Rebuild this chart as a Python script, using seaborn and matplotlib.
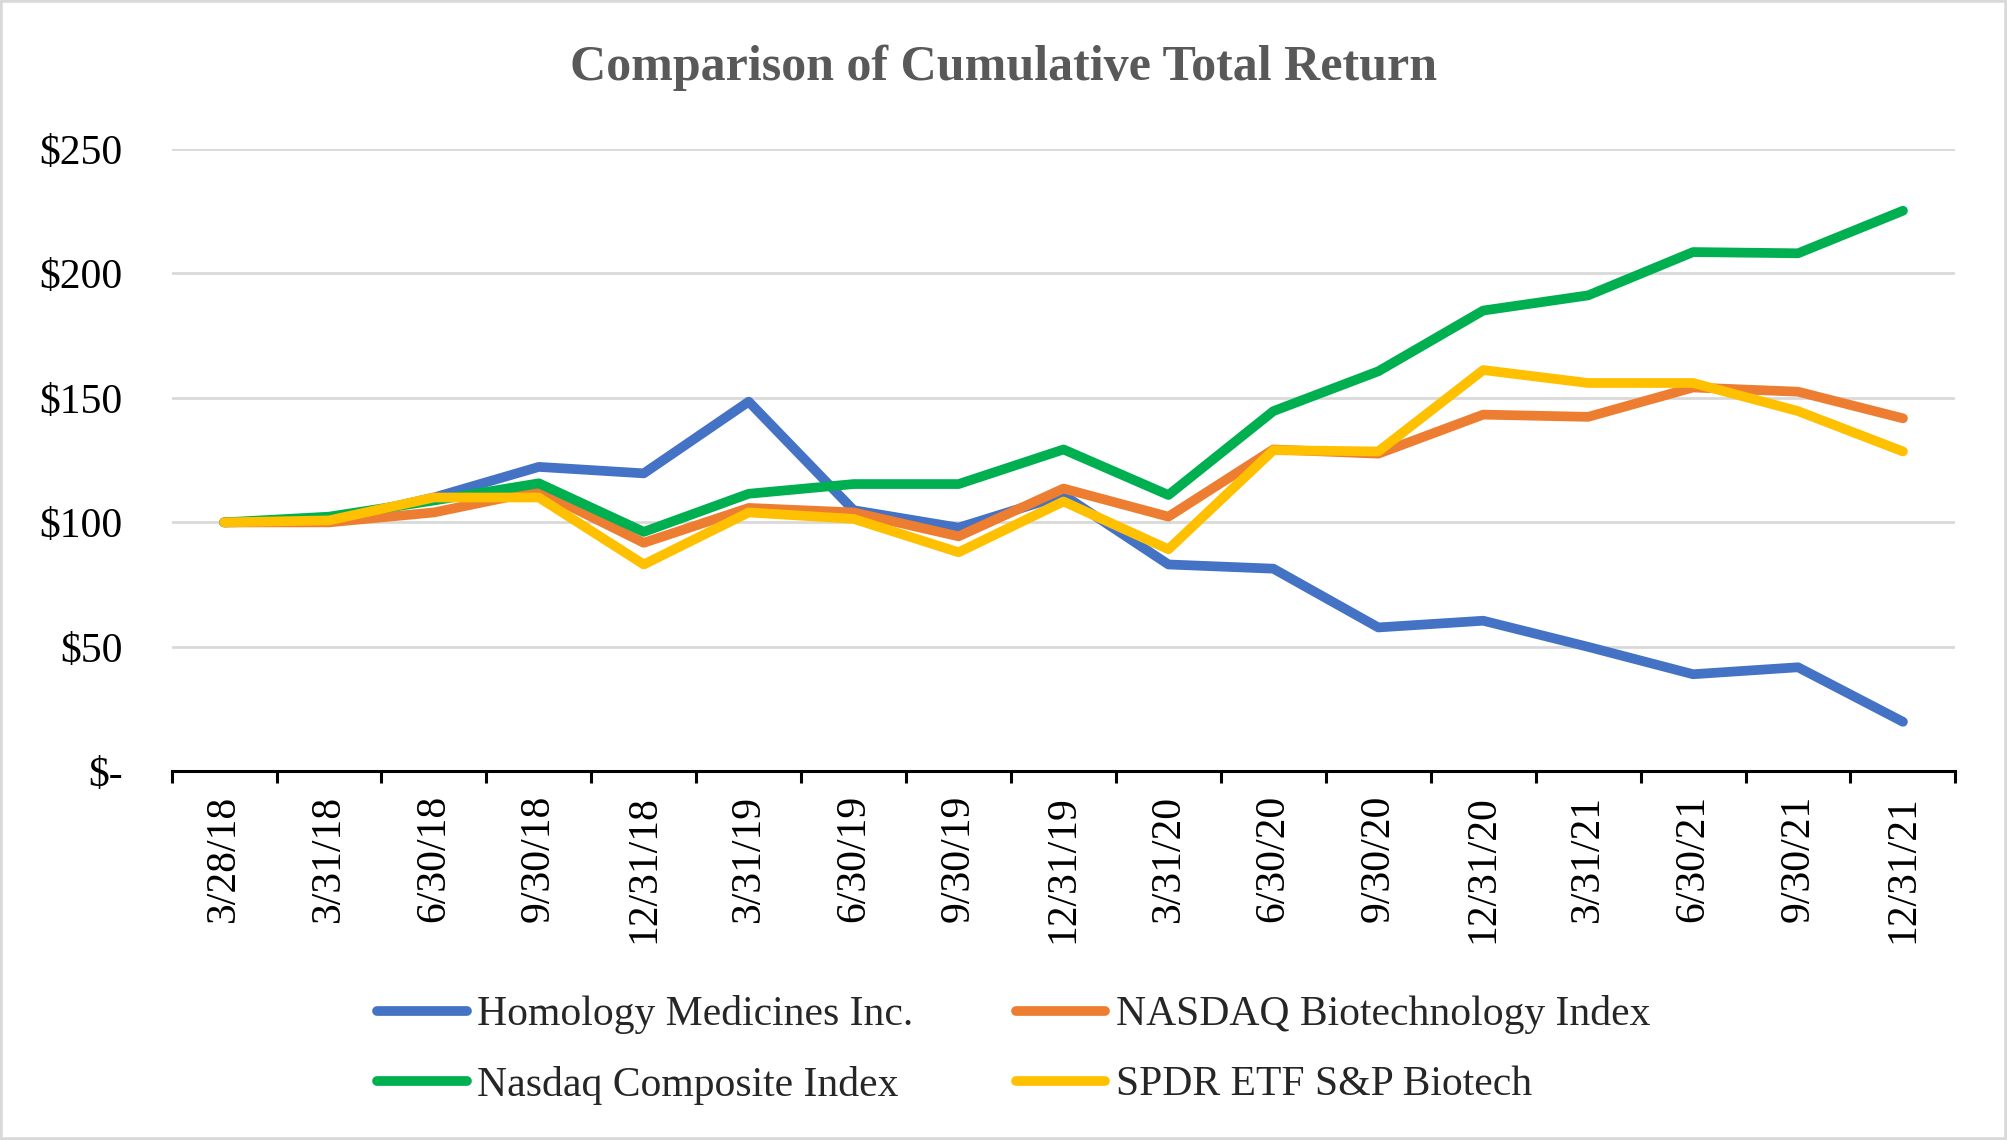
import matplotlib.pyplot as plt
from matplotlib.patches import Rectangle
import numpy as np
import pandas as pd
import seaborn as sns

sns.set_theme(style='white')
plt.rcParams['font.family'] = ['Liberation Serif', 'DejaVu Serif']

# Data
dates = ['3/28/18', '3/31/18', '6/30/18', '9/30/18', '12/31/18', '3/31/19',
         '6/30/19', '9/30/19', '12/31/19', '3/31/20', '6/30/20', '9/30/20',
         '12/31/20', '3/31/21', '6/30/21', '9/30/21', '12/31/21']
homology = [100, 100.5, 110, 122.3, 119.7, 148.5, 104.9, 97.9, 111, 83.1,
            81.4, 57.8, 60.5, 50, 39, 41.8, 19.9]
nasdaq_bio = [100, 100, 104, 112.7, 91.8, 105.8, 104, 94.4, 113.6, 102.3,
              129.3, 127.6, 143.3, 142.4, 154.2, 152.5, 141.8]
nasdaq_comp = [100, 102.3, 108.8, 115.7, 96.2, 111.5, 115.4, 115.4, 129.3, 111,
               144.7, 160.7, 185.1, 191.2, 208.6, 208.1, 225.2]
spdr = [100, 100.8, 110, 110, 83.1, 104, 101.4, 88, 108.4, 89.2,
        129, 128.5, 161.2, 156, 156, 144.7, 128.5]

series_names = ['Homology Medicines Inc.', 'NASDAQ Biotechnology Index',
                'Nasdaq Composite Index', 'SPDR ETF S&P Biotech']
colors = ['#4472C4', '#ED7D31', '#00B050', '#FFC000']
y_ticks = [0, 50, 100, 150, 200, 250]
y_labels = ['$-', '$50', '$100', '$150', '$200', '$250']

# Long-form table for seaborn
df = pd.DataFrame({'Date': dates,
                   series_names[0]: homology,
                   series_names[1]: nasdaq_bio,
                   series_names[2]: nasdaq_comp,
                   series_names[3]: spdr})
long_df = df.melt(id_vars='Date', var_name='Series', value_name='Value')

fig = plt.figure(figsize=(20.07, 11.4), dpi=100)
ax = fig.add_axes([0.0855, 0.3234, 0.8888, 0.5459])

sns.lineplot(data=long_df, x='Date', y='Value', hue='Series',
             hue_order=series_names, palette=colors, linewidth=7,
             solid_capstyle='round', solid_joinstyle='round',
             legend=False, ax=ax)

# Axes limits and grid
ax.set_xlim(-0.5, len(dates) - 0.5)
ax.set_ylim(0, 250)
ax.set_yticks(y_ticks)
ax.set_yticklabels(y_labels, fontsize=30, color='black')
ax.tick_params(axis='y', length=0, pad=35)
ax.yaxis.grid(True, color='#D9D9D9', linewidth=2)
ax.xaxis.grid(False)
ax.set_xlabel('')
ax.set_ylabel('')

for side in ['top', 'right', 'left']:
    ax.spines[side].set_visible(False)
ax.spines['bottom'].set_color('black')
ax.spines['bottom'].set_linewidth(2.2)

# Category labels centred, tick marks between categories (Excel style)
ax.set_xticks(np.arange(len(dates)))
ax.set_xticklabels(dates, rotation=90, fontsize=30, color='black')
ax.set_xticks(np.arange(len(dates) + 1) - 0.5, minor=True)
ax.tick_params(axis='x', which='major', length=0, pad=17)
ax.tick_params(axis='x', which='minor', length=8.5, width=2.2,
               color='black', direction='out', bottom=True)

# Title
fig.text(0.5, 0.9405, 'Comparison of Cumulative Total Return', ha='center',
         va='center', fontsize=36, fontweight='bold', color='#595959')

# Legend laid out row-wise as in the reference
lines = ax.get_lines()[:len(series_names)]
order = [0, 2, 1, 3]
leg = fig.legend([lines[i] for i in order], [series_names[i] for i in order],
                 loc='center', bbox_to_anchor=(0.505, 0.079), ncol=2,
                 frameon=False, fontsize=30, handlelength=2.15,
                 handletextpad=0.25, columnspacing=2.45, labelspacing=0.76)
for h in leg.legend_handles:
    h.set_linewidth(7)
    h.set_solid_capstyle('round')

# Light grey outer border
fig.patches.append(Rectangle((0, 0), 1, 1, transform=fig.transFigure,
                             fill=False, edgecolor='#D9D9D9', linewidth=4))

plt.savefig('out.png', dpi=100)
